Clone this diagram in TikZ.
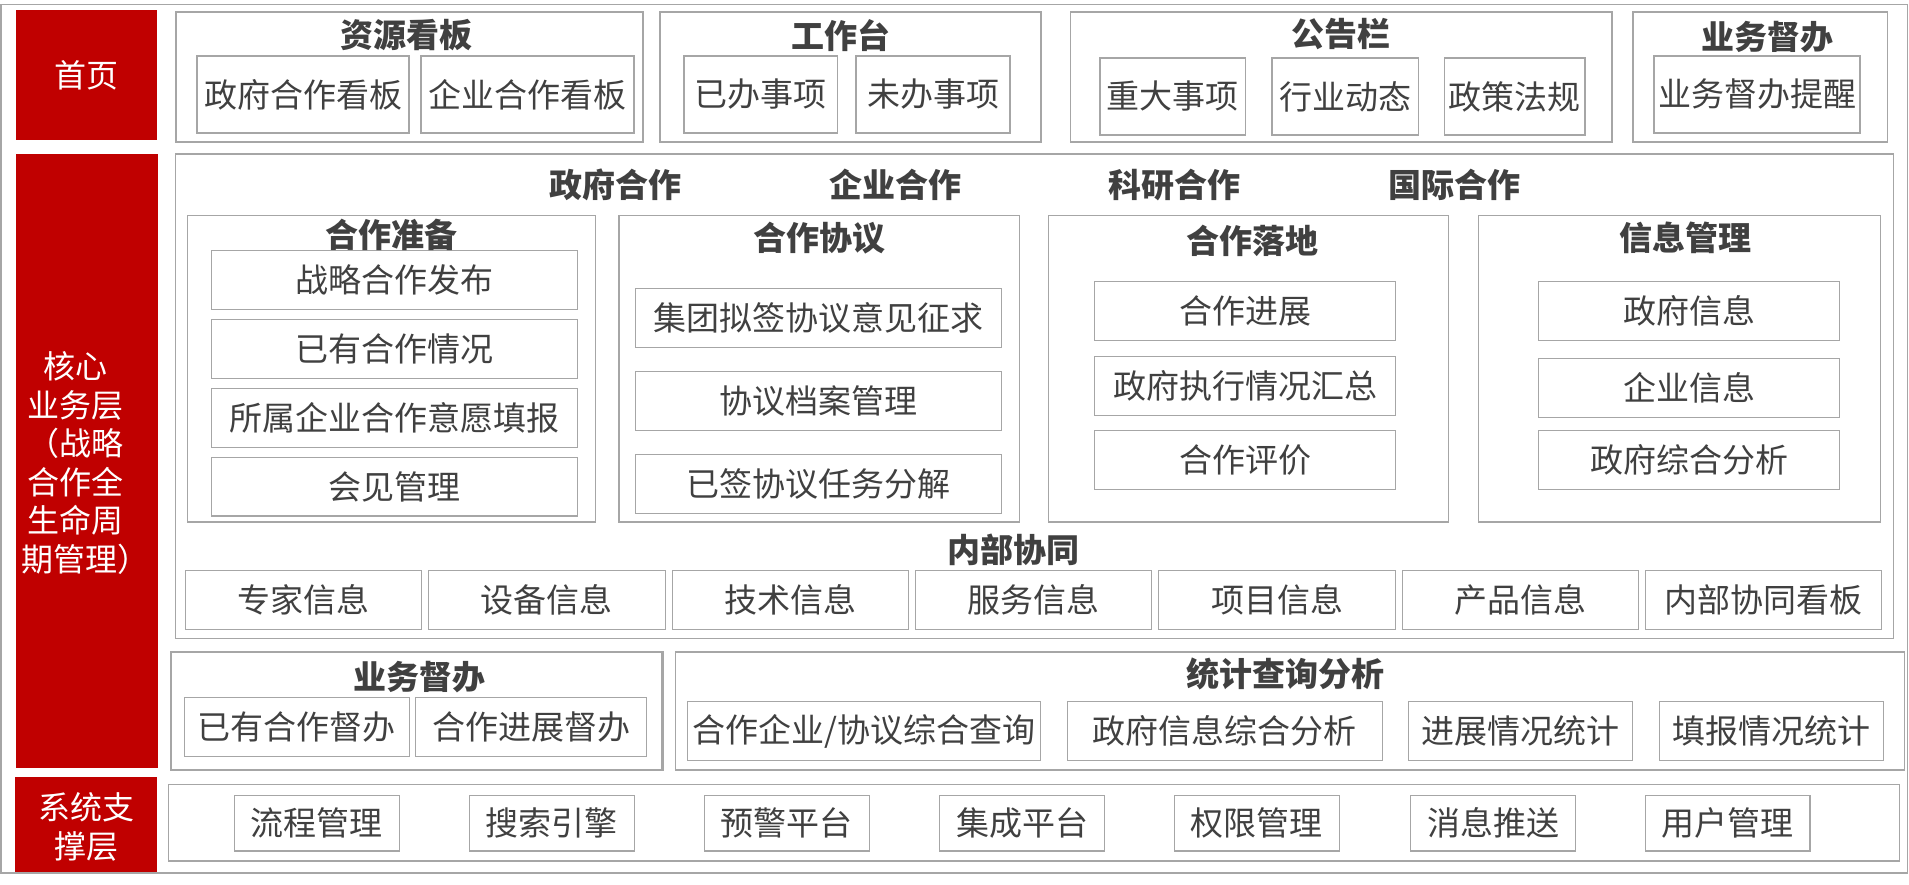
\documentclass[tikz,border=0pt]{standalone}
\usepackage{fontspec}
\newfontfamily\cjk{Noto Sans CJK SC}
\definecolor{hdrred}{HTML}{C00000}
\definecolor{bordergray}{HTML}{A6A6A6}
\definecolor{txtgray}{HTML}{404040}
\tikzset{
  itembox/.style={draw=bordergray, line width=1.2pt, inner sep=0pt, outer sep=0pt,
    font=\cjk\fontsize{33}{36}\selectfont, text=txtgray},
  groupbox/.style={draw=bordergray, line width=1.2pt, inner sep=0pt, outer sep=0pt},
  thickgroup/.style={draw=bordergray, line width=2.2pt, inner sep=0pt, outer sep=0pt},
  ttl/.style={font=\cjk\bfseries\fontsize{33}{36}\selectfont, text=txtgray, inner sep=0pt},
  redbox/.style={fill=hdrred, draw=none, inner sep=0pt, outer sep=0pt},
  redtxt/.style={font=\cjk\fontsize{32}{38.5}\selectfont, text=white, inner sep=0pt, align=center}
}
\newcommand\bx[7][itembox]{%
  \pgfmathsetmacro\bxw{#5-#3}\pgfmathsetmacro\bxh{#6-#4}%
  \node[#1, minimum width=\bxw pt, minimum height=\bxh pt] (#2) at ({(#3+#5)/2},{(#4+#6)/2}) {#7};}
\begin{document}
\begin{tikzpicture}[x=1pt,y=-1pt]
\useasboundingbox (0,0) rectangle (1909,884);
% outer frame
\bx[groupbox]{frame}{1}{4.5}{1907.5}{873}{}
% red headers
\bx[redbox]{rhome}{15.6}{10}{157}{140}{}
\node[redtxt] (thome) at (86.3,75) {首页};
\bx[redbox]{rcore}{16}{154}{158}{768}{}
\node[redtxt] (tcore) at (75,463) {核心\\业务层\\（战略\\合作全\\生命周\\期管理）\hspace*{-20pt}};
\bx[redbox]{rsys}{15}{777}{157}{872}{}
\node[redtxt, font=\cjk\fontsize{32}{39.7}\selectfont] (tsys) at (86,827) {系统支\\撑层};
% top row
\bx[groupbox]{g1}{176}{12}{643}{142}{}
\node[ttl] (g1t) at (406,35) {资源看板};
\bx{g1a}{197}{56}{409}{133}{政府合作看板}
\bx{g1b}{421}{56}{634}{133}{企业合作看板}
\bx[groupbox]{g2}{660}{12}{1041}{142}{}
\node[ttl] (g2t) at (841,35.5) {工作台};
\bx{g2a}{684}{56}{837.5}{133}{已办事项}
\bx{g2b}{856}{56}{1010}{133}{未办事项}
\bx[groupbox]{g3}{1070.5}{12}{1612}{142}{}
\node[ttl] (g3t) at (1341,34) {公告栏};
\bx{g3a}{1100}{58}{1245.5}{135}{重大事项}
\bx{g3b}{1272}{58}{1418.5}{135}{行业动态}
\bx{g3c}{1444.6}{58}{1585}{135}{政策法规}
\bx[groupbox]{g4}{1633}{12}{1887.6}{142}{}
\node[ttl] (g4t) at (1767,37) {业务督办};
\bx{g4a}{1654}{56}{1860}{133}{业务督办提醒}
% core box
\bx[groupbox]{core}{175.7}{154}{1893.3}{638.3}{}
\node[ttl] (c1) at (615,185) {政府合作};
\node[ttl] (c2) at (895,185) {企业合作};
\node[ttl] (c3) at (1174,185) {科研合作};
\node[ttl] (c4) at (1454,185) {国际合作};
% panel 1
\bx[groupbox]{p1}{187.4}{215.7}{595.8}{522}{}
\bx{p1a}{211.5}{250.7}{577.5}{309.3}{战略合作发布}
\bx{p1b}{211.5}{319.3}{577.5}{378.3}{已有合作情况}
\bx{p1c}{211.5}{388.7}{577.5}{447.3}{所属企业合作意愿填报}
\bx{p1d}{211.5}{457.7}{577.5}{516}{会见管理}
\node[ttl] (p1t) at (391,235) {合作准备};
% panel 2
\bx[groupbox]{p2}{619}{215.7}{1019.3}{522}{}
\node[ttl] (p2t) at (819,238.5) {合作协议};
\bx{p2a}{635.6}{288.3}{1001.5}{347.3}{集团拟签协议意见征求}
\bx{p2b}{635.6}{371.7}{1001.5}{430.3}{协议档案管理}
\bx{p2c}{635.6}{454.7}{1001.5}{513.3}{已签协议任务分解}
% panel 3
\bx[groupbox]{p3}{1048.3}{215.7}{1448.8}{522}{}
\node[ttl] (p3t) at (1252,240.5) {合作落地};
\bx{p3a}{1094.4}{281.3}{1395.8}{340.3}{合作进展}
\bx{p3b}{1094.4}{356.3}{1395.8}{415.3}{政府执行情况汇总}
\bx{p3c}{1094.4}{430.3}{1395.8}{489.3}{合作评价}
% panel 4
\bx[groupbox]{p4}{1478.3}{215.7}{1880.7}{522}{}
\node[ttl] (p4t) at (1685,238.3) {信息管理};
\bx{p4a}{1538.3}{281.3}{1839.7}{340.3}{政府信息}
\bx{p4b}{1538.3}{358.7}{1839.7}{417.3}{企业信息}
\bx{p4c}{1538.3}{430.3}{1839.7}{489.3}{政府综合分析}
% internal collaboration
\node[ttl] (nbt) at (1013,550) {内部协同};
\bx{nb1}{185.2}{570.7}{421.6}{629.3}{专家信息}
\bx{nb2}{428.6}{570.7}{665.3}{629.3}{设备信息}
\bx{nb3}{672.4}{570.7}{908.6}{629.3}{技术信息}
\bx{nb4}{915.3}{570.7}{1151.6}{629.3}{服务信息}
\bx{nb5}{1158.6}{570.7}{1395.8}{629.3}{项目信息}
\bx{nb6}{1402.4}{570.7}{1638.7}{629.3}{产品信息}
\bx{nb7}{1645.3}{570.7}{1881.7}{629.3}{内部协同看板}
% supervision
\bx[thickgroup]{sv}{170.7}{652}{662.4}{770}{}
\node[ttl] (svt) at (419,676.7) {业务督办};
\bx{sv1}{184.4}{697.3}{409.5}{756.3}{已有合作督办}
\bx{sv2}{415.3}{697.3}{646.7}{756.3}{合作进展督办}
% statistics
\bx[groupbox]{st}{675.7}{652}{1904.3}{770}{}
\node[ttl] (stt) at (1285.5,674) {统计查询分析};
\bx{st1}{687.5}{701.7}{1040.6}{760.3}{合作企业/协议综合查询}
\bx{st2}{1067.4}{701.7}{1382.5}{760.3}{政府信息综合分析}
\bx{st3}{1408.3}{701.7}{1632.3}{760.3}{进展情况统计}
\bx{st4}{1659.3}{701.7}{1883.3}{760.3}{填报情况统计}
% system support
\bx[groupbox]{sy}{168.3}{784.3}{1899.2}{861}{}
\bx{sy1}{234.4}{795.3}{399.1}{851}{流程管理}
\bx{sy2}{469.6}{795.3}{634.3}{851}{搜索引擎}
\bx{sy3}{704.5}{795.3}{869.2}{851}{预警平台}
\bx{sy4}{939.7}{795.3}{1104.4}{851}{集成平台}
\bx{sy5}{1174.6}{795.3}{1339.3}{851}{权限管理}
\bx{sy6}{1410.7}{795.3}{1575.4}{851}{消息推送}
\bx{sy7}{1645.2}{795.3}{1809.9}{851}{用户管理}
\end{tikzpicture}
\end{document}
